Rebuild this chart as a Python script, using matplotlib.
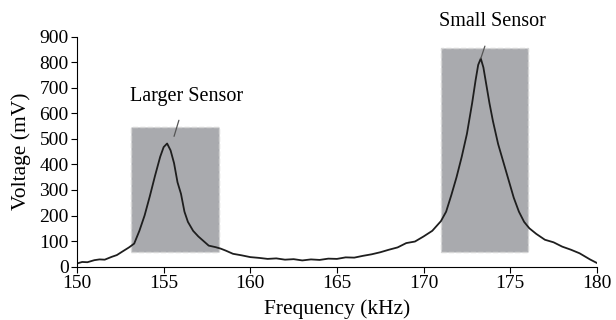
import matplotlib
matplotlib.use("Agg")
import matplotlib.pyplot as plt
from matplotlib.patches import Rectangle

plt.rcParams["font.family"] = ["Liberation Serif", "DejaVu Serif"]

freq = [150.0, 150.3, 150.6, 151.0, 151.3, 151.6, 152.0, 152.3, 152.6, 153.0,
        153.3, 153.6, 153.9, 154.2, 154.5, 154.8, 155.0, 155.2, 155.4, 155.6,
        155.8, 156.0, 156.2, 156.4, 156.7, 157.0, 157.3, 157.6, 158.0, 158.3,
        158.6, 159.0, 159.5, 160.0, 160.5, 161.0, 161.5, 162.0, 162.5, 163.0,
        163.5, 164.0, 164.5, 165.0, 165.5, 166.0, 166.5, 167.0, 167.5, 168.0,
        168.5, 169.0, 169.5, 170.0, 170.5, 171.0, 171.3, 171.6, 171.9, 172.2,
        172.5, 172.8, 173.0, 173.15, 173.3, 173.45, 173.6, 173.8, 174.0, 174.3,
        174.6, 174.9, 175.2, 175.5, 175.8, 176.1, 176.5, 177.0, 177.5, 178.0,
        178.5, 179.0, 179.3, 179.6, 180.0]
voltage = [12, 18, 17, 25, 28, 27, 38, 45, 58, 75,
           90, 140, 200, 275, 355, 430, 468, 482, 455, 405,
           330, 285, 215, 175, 140, 118, 100, 82, 76, 70,
           62, 50, 44, 37, 34, 30, 32, 27, 29, 24,
           28, 26, 31, 30, 36, 35, 42, 48, 56, 66,
           75, 92, 98, 118, 140, 178, 215, 280, 350, 430,
           520, 640, 730, 790, 815, 780, 720, 640, 570, 480,
           410, 340, 270, 215, 175, 150, 128, 105, 95, 78,
           66, 52, 40, 28, 14]

# shaded sensor bands: (f0, f1, v0, v1)
bands = [(153.1, 158.2, 58, 545), (171.0, 176.0, 58, 857)]
labels = ["Larger Sensor", "Small Sensor"]
label_pos = [(156.3, 668), (174.0, 958)]
arrow_tip = [(155.6, 510), (173.3, 815)]

fig, ax = plt.subplots(figsize=(6.16, 3.2), dpi=100)
fig.subplots_adjust(left=0.125, right=0.969, bottom=0.167, top=0.885)

for f0, f1, v0, v1 in bands:
    ax.add_patch(Rectangle((f0, v0), f1 - f0, v1 - v0, facecolor="#a9aaae",
                           edgecolor="#d6d6d6", linestyle="--", linewidth=1.0,
                           zorder=1))

ax.plot(freq, voltage, color="#1e1e1e", linewidth=1.3, zorder=2)

for text, (tx, ty), (ax_, ay) in zip(labels, label_pos, arrow_tip):
    ax.annotate(text, xy=(ax_, ay), xytext=(tx, ty), ha="center", va="center",
                fontsize=14.5, annotation_clip=False,
                arrowprops=dict(arrowstyle="-", color="#555555", lw=0.9,
                                shrinkA=9, shrinkB=0))

ax.set_xlim(150, 180)
ax.set_ylim(0, 900)
ax.set_xticks(range(150, 181, 5))
ax.set_yticks(range(0, 901, 100))
ax.spines["top"].set_visible(False)
ax.spines["right"].set_visible(False)
ax.tick_params(labelsize=14, length=4, direction="out", pad=2)
ax.set_xlabel("Frequency (kHz)", fontsize=15.5, labelpad=5)
ax.set_ylabel("Voltage (mV)", fontsize=15.5, labelpad=6)

fig.savefig("out.png", dpi=100)
